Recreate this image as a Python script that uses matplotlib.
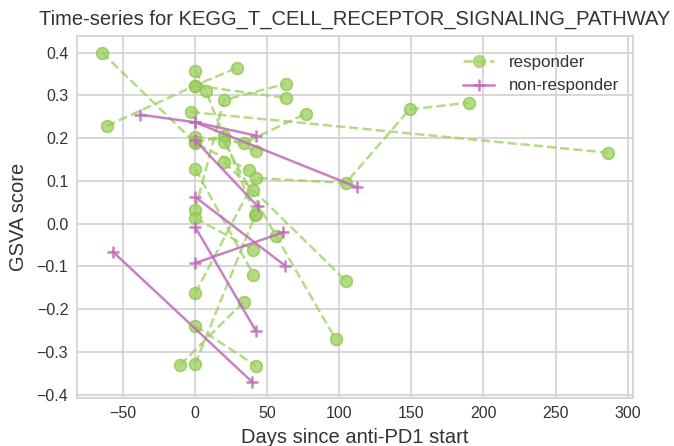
import matplotlib
matplotlib.use("Agg")
import matplotlib.pyplot as plt
from matplotlib.lines import Line2D

plt.rcParams['font.family'] = ['Liberation Sans', 'DejaVu Sans']

# Responder patients (days, GSVA score)
resp_days = [
    [-64.7, 0, 37],
    [-61.5, 0, 29.3],
    [-3, 286.2],
    [0, 7.3, 41.3],
    [0, 62.8],
    [0, 20, 62.8],
    [0, 34, 76.6],
    [0, 20, 42],
    [20, 55.9, 97.4],
    [20, 40.4, 104.4],
    [0, 40.4],
    [0, 40.4],
    [0, 42, 104.4, 148.7, 189.8],
    [0, 42],
    [0, 42],
    [-10.4, 33.5],
]
resp_scores = [
    [0.40, 0.189, 0.125],
    [0.228, 0.323, 0.365],
    [0.261, 0.166],
    [0.358, 0.311, 0.021],
    [0.323, 0.294],
    [0.033, 0.289, 0.327],
    [0.203, 0.189, 0.257],
    [0.19, 0.204, 0.169],
    [0.19, -0.028, -0.270],
    [0.144, 0.078, -0.133],
    [0.128, -0.119],
    [0.013, -0.061],
    [-0.162, 0.107, 0.095, 0.267, 0.283],
    [-0.328, 0.023],
    [-0.239, -0.332],
    [-0.330, -0.183],
]

# Non-responder patients
nonresp_days = [
    [-38.4, 0, 42],
    [0, 112.5],
    [0, 43.2],
    [0, 62.3],
    [0, 61.2],
    [0, 42],
    [-57.3, 39.2],
]
nonresp_scores = [
    [0.255, 0.237, 0.206],
    [0.237, 0.085],
    [0.195, 0.041],
    [0.0625, -0.098],
    [-0.092, -0.020],
    [-0.008, -0.250],
    [-0.065, -0.369],
]

title = "Time-series for KEGG_T_CELL_RECEPTOR_SIGNALING_PATHWAY"
xlabel = "Days since anti-PD1 start"
ylabel = "GSVA score"
legend_labels = ["responder", "non-responder"]

green = '#9ccf5e'
purple = '#bf6cb8'

fig = plt.figure(figsize=(6.74, 4.46), dpi=100)
ax = fig.add_axes([0.1138, 0.1076, 0.9392 - 0.1138, 0.919 - 0.1076])

for d, s in zip(resp_days, resp_scores):
    ax.plot(d, s, color=green, linestyle='--', linewidth=1.8, marker='o',
            markersize=8.5, markeredgewidth=1.2, markerfacecolor=green,
            markeredgecolor='#8cc64c', alpha=0.75)
for d, s in zip(nonresp_days, nonresp_scores):
    ax.plot(d, s, color=purple, linestyle='-', linewidth=1.8, marker='+',
            markersize=8, markeredgewidth=1.8, alpha=0.85)

ax.grid(True, color='#d4d4d4', linewidth=1.3)
ax.set_axisbelow(True)
for sp in ax.spines.values():
    sp.set_color('#d4d4d4')
    sp.set_linewidth(1.3)
ax.tick_params(length=0, labelsize=11.5, labelcolor='#333333', pad=6)
ax.set_xticks([-50, 0, 50, 100, 150, 200, 250, 300])
ax.set_yticks([-0.4, -0.3, -0.2, -0.1, 0.0, 0.1, 0.2, 0.3, 0.4])
ax.set_xlabel(xlabel, fontsize=14.5, color='#333333', labelpad=5)
ax.set_ylabel(ylabel, fontsize=14.5, color='#333333', labelpad=6)
ax.set_title(title, fontsize=14.5, color='#333333', pad=8)

handles = [
    Line2D([0], [0], color=green, linestyle='--', linewidth=1.8, marker='o',
           markersize=8.5, alpha=0.75),
    Line2D([0], [0], color=purple, linestyle='-', linewidth=1.8, marker='+',
           markersize=8, markeredgewidth=1.8, alpha=0.85),
]
ax.legend(handles, legend_labels, loc='upper right', frameon=False, fontsize=12.2,
          labelcolor='#333333', bbox_to_anchor=(1.003, 0.99), handlelength=1.8,
          handletextpad=0.9)

fig.savefig('out.png', dpi=100)
